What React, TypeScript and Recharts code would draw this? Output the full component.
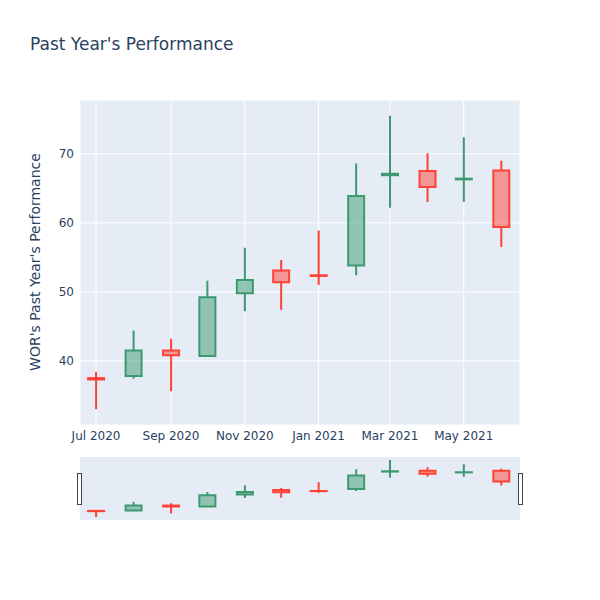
import React from "react";
import { ComposedChart, Bar, XAxis, YAxis, CartesianGrid } from "recharts";

const months = ["2020-07-01","2020-08-01","2020-09-01","2020-10-01","2020-11-01","2020-12-01","2021-01-01","2021-02-01","2021-03-01","2021-04-01","2021-05-01","2021-06-01"];
const openVals = [37.5, 37.8, 41.5, 40.7, 49.8, 53.1, 52.4, 53.8, 66.9, 67.5, 66.3, 67.6];
const highVals = [38.4, 44.4, 43.2, 51.6, 56.4, 54.6, 58.9, 68.6, 75.5, 70.1, 72.4, 69.0];
const lowVals = [33.0, 37.4, 35.6, 40.6, 47.2, 47.4, 51.0, 52.4, 62.2, 63.0, 63.0, 56.5];
const closeVals = [37.3, 41.5, 40.8, 49.2, 51.7, 51.4, 52.3, 63.9, 67.1, 65.2, 66.4, 59.4];

const tickDates = ["2020-07-01","2020-09-01","2020-11-01","2021-01-01","2021-03-01","2021-05-01"];
const tickLabels = ["Jul 2020","Sep 2020","Nov 2020","Jan 2021","Mar 2021","May 2021"];
const yTicks = [40, 50, 60, 70];

const xDomain = [Date.UTC(2020, 5, 17, 18), Date.UTC(2021, 5, 16, 12)];
const yDomain = [30.7, 77.8];

const data = months.map((m, i) => ({
  t: Date.parse(m),
  open: openVals[i],
  high: highVals[i],
  low: lowVals[i],
  close: closeVals[i],
  range: [lowVals[i], highVals[i]],
}));

const tickTs = tickDates.map((d) => Date.parse(d));
const fmt = (v: number) => {
  const i = tickTs.indexOf(v);
  return i >= 0 ? tickLabels[i] : "";
};

const INC = "#3D9970";
const DEC = "#FF4136";
const FONT = '"DejaVu Sans", Verdana, sans-serif';

const Candle = (props: any) => {
  const { x, y, width, height, payload } = props;
  if (payload == null) return null;
  const top = Math.min(y, y + height);
  const bot = Math.max(y, y + height);
  const { open, close, high, low } = payload;
  const span = high - low || 1;
  const py = (v: number) => top + ((high - v) / span) * (bot - top);
  const up = close >= open;
  const color = up ? INC : DEC;
  const fill = up ? "rgba(61,153,112,0.5)" : "rgba(255,65,54,0.5)";
  const bTop = py(Math.max(open, close));
  const bBot = py(Math.min(open, close));
  const cx = x + width / 2;
  const x0 = x;
  const x1 = x + width;
  return (
    <g>
      <path
        d={`M${x0},${bTop}H${x1}V${bBot}H${x0}Z`}
        fill={fill}
        stroke={color}
        strokeWidth={2}
      />
      <path
        d={`M${cx},${bTop}V${top}M${cx},${bBot}V${bot}`}
        stroke={color}
        strokeWidth={2}
        fill="none"
      />
    </g>
  );
};

export default function App() {
  return (
    <div style={{ position: "absolute", left: 0, top: 0, width: 600, height: 600, background: "#fff", fontFamily: FONT }}>
      <div style={{ position: "absolute", left: 0, top: 0 }}>
        <ComposedChart width={600} height={450} data={data} margin={{ top: 100, right: 80, left: 0, bottom: 0 }}>
          <CartesianGrid fill="#E5ECF6" stroke="#ffffff" strokeWidth={1} />
          <XAxis
            dataKey="t"
            type="number"
            scale="time"
            domain={xDomain}
            ticks={tickTs}
            tickFormatter={fmt}
            axisLine={false}
            tickLine={false}
            tickSize={0}
            tickMargin={6}
            height={25}
            allowDataOverflow
            tick={{ fill: "#2a3f5f", fontSize: 12, fontFamily: FONT }}
          />
          <YAxis
            type="number"
            domain={yDomain}
            ticks={yTicks}
            allowDataOverflow
            axisLine={false}
            tickLine={false}
            tickSize={0}
            tickMargin={6}
            width={80}
            tick={{ fill: "#2a3f5f", fontSize: 12, fontFamily: FONT }}
          />
          <Bar dataKey="range" barSize={16} shape={<Candle />} isAnimationActive={false} />
        </ComposedChart>
      </div>
      <div style={{ position: "absolute", left: 0, top: 457 }}>
        <ComposedChart width={600} height={63} data={data} margin={{ top: 0, right: 80, left: 80, bottom: 0 }}>
          <CartesianGrid fill="#E5ECF6" horizontal={false} vertical={false} />
          <XAxis dataKey="t" type="number" scale="time" domain={xDomain} hide allowDataOverflow />
          <YAxis type="number" domain={yDomain} hide allowDataOverflow />
          <Bar dataKey="range" barSize={16} shape={<Candle />} isAnimationActive={false} />
        </ComposedChart>
      </div>
      <svg width={600} height={600} style={{ position: "absolute", left: 0, top: 0, pointerEvents: "none" }}>
        <text x={30} y={50} fontSize={17} fill="#2a3f5f" fontFamily={FONT}>Past Year's Performance</text>
        <text
          x={0}
          y={0}
          transform="translate(40,262) rotate(-90)"
          textAnchor="middle"
          fontSize={14}
          fill="#2a3f5f"
          fontFamily={FONT}
        >
          WOR's Past Year's Performance
        </text>
        <rect x={77.5} y={473.5} width={4} height={31} fill="#fff" stroke="#444" strokeWidth={1} />
        <rect x={518.5} y={473.5} width={4} height={31} fill="#fff" stroke="#444" strokeWidth={1} />
      </svg>
    </div>
  );
}
